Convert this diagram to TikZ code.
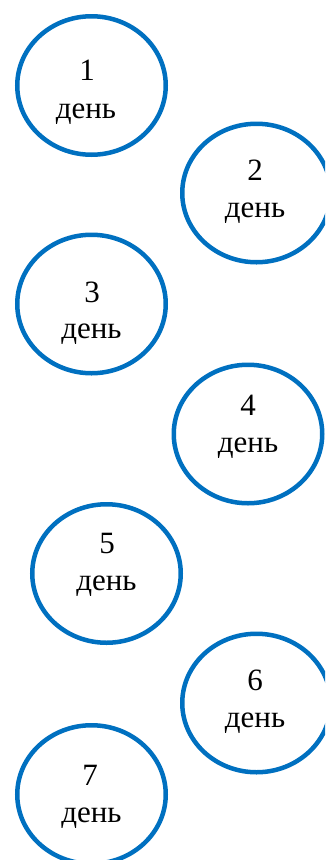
\documentclass[tikz,border=0pt]{standalone}
\usepackage{fontspec}
\setmainfont{Liberation Serif}
\usetikzlibrary{shapes.geometric}
\definecolor{ringblue}{HTML}{0070C0}
\tikzset{
  dayring/.style={ellipse, draw=ringblue, line width=4.5pt, minimum width=148.5pt, minimum height=138.5pt, inner sep=0pt},
  daytxt/.style={anchor=base, inner sep=0pt, font=\fontsize{31}{37}\selectfont, text=black}
}
\begin{document}
\begin{tikzpicture}[x=1pt,y=-1pt]
\useasboundingbox (0,0) rectangle (325,860);
\clip (0,0) rectangle (325,860);
% rings
\node[dayring] (e1) at (91.5,85.5) {};
\node[dayring] (e2) at (256.5,193) {};
\node[dayring] (e3) at (91.5,304) {};
\node[dayring] (e4) at (248,434) {};
\node[dayring] (e5) at (106.5,573.5) {};
\node[dayring] (e6) at (256.5,703) {};
\node[dayring] (e7) at (91.5,794.5) {};
% labels
\node[daytxt] (n1) at (87,80) {1};
\node[daytxt] (w1) at (86,118) {день};
\node[daytxt] (n2) at (255,180) {2};
\node[daytxt] (w2) at (255,217) {день};
\node[daytxt] (n3) at (92,302) {3};
\node[daytxt] (w3) at (91.5,338) {день};
\node[daytxt] (n4) at (248,415) {4};
\node[daytxt] (w4) at (248,452) {день};
\node[daytxt] (n5) at (107,553) {5};
\node[daytxt] (w5) at (106.5,590) {день};
\node[daytxt] (n6) at (255,690) {6};
\node[daytxt] (w6) at (255,727) {день};
\node[daytxt] (n7) at (90,785) {7};
\node[daytxt] (w7) at (91.5,822) {день};
\end{tikzpicture}
\end{document}
